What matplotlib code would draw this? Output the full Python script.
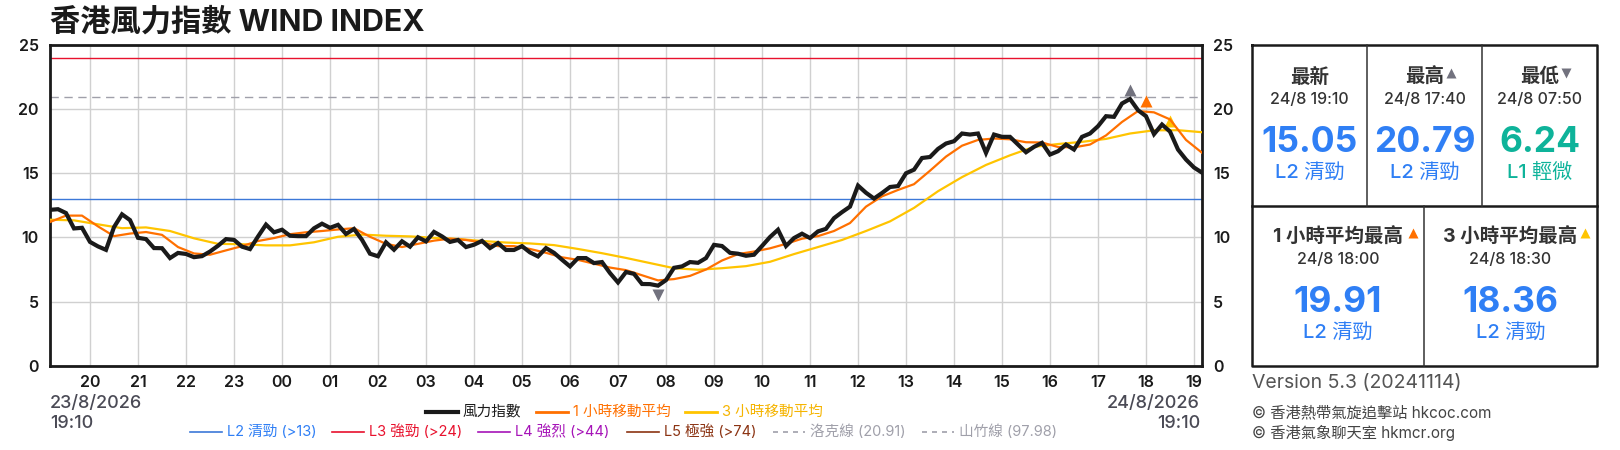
import numpy as np
import pandas as pd
import matplotlib
matplotlib.use('Agg')
import matplotlib.pyplot as plt
import matplotlib.dates as mdates

plt.rcParams['font.family'] = ['Inter', 'Noto Sans CJK TC', 'DejaVu Sans']

# ---- data ----
start = '2026-08-23 19:10'
wind_index = [12.15, 12.2, 11.9, 10.7, 10.75, 9.65, 9.3, 9.03, 10.8, 11.8,
              11.35, 9.97, 9.87, 9.17, 9.16, 8.39, 8.79, 8.71, 8.46, 8.54,
              8.9, 9.35, 9.87, 9.81, 9.28, 9.09, 10.07, 11.0, 10.4, 10.6,
              10.13, 10.1, 10.1, 10.71, 11.07, 10.75, 10.98, 10.27, 10.66, 9.81,
              8.73, 8.53, 9.62, 9.04, 9.7, 9.28, 10.01, 9.69, 10.43, 10.08,
              9.65, 9.8, 9.25, 9.43, 9.73, 9.17, 9.56, 9.02, 9.02, 9.32,
              8.83, 8.52, 9.17, 8.8, 8.26, 7.74, 8.39, 8.39, 8.0, 8.08,
              7.22, 6.49, 7.3, 7.16, 6.37, 6.36, 6.24, 6.67, 7.63, 7.74,
              8.08, 8.02, 8.39, 9.42, 9.33, 8.8, 8.73, 8.57, 8.65, 9.33,
              10.03, 10.6, 9.33, 9.95, 10.29, 9.95, 10.47, 10.67, 11.5, 11.97,
              12.4, 14.04, 13.48, 13.03, 13.46, 13.93, 14.0, 15.0, 15.28, 16.19,
              16.27, 16.9, 17.32, 17.5, 18.1, 18.02, 18.1, 16.59, 18.02, 17.84,
              17.84, 17.24, 16.64, 17.06, 17.37, 16.46, 16.72, 17.24, 16.85, 17.84,
              18.1, 18.67, 19.45, 19.4, 20.44, 20.79, 19.92, 19.45, 18.05, 18.8,
              18.25, 16.85, 16.07, 15.45, 15.05]
# 1 hour moving average, every 20 minutes
ma_1h = [11.2, 11.7, 11.7, 10.86, 10.1, 10.3, 10.42, 10.2, 9.25, 8.75,
         8.65, 8.99, 9.32, 9.72, 9.95, 10.25, 10.4, 10.5, 10.62, 10.72,
         10.05, 9.5, 9.25, 9.5, 9.75, 9.9, 9.8, 9.6, 9.32, 9.32,
         9.1, 8.8, 8.45, 8.25, 7.95, 7.65, 7.45, 7.05, 6.65, 6.75,
         7.0, 7.5, 8.2, 8.7, 8.9, 9.15, 9.5, 9.9, 10.1, 10.5,
         11.12, 12.4, 13.2, 13.7, 14.15, 15.2, 16.3, 17.15, 17.6, 17.71,
         17.65, 17.42, 17.4, 17.05, 17.02, 17.24, 17.95, 19.0, 19.85, 19.75,
         19.2, 17.6, 16.6]
# 3 hour moving average, every 30 minutes
ma_3h = [11.38, 11.33, 11.02, 10.72, 10.78, 10.5, 9.93, 9.5, 9.47, 9.38,
         9.38, 9.62, 10.05, 10.22, 10.13, 10.08, 9.97, 9.88, 9.72, 9.6,
         9.53, 9.4, 9.1, 8.77, 8.4, 8.0, 7.6, 7.48, 7.6, 7.76,
         8.1, 8.7, 9.25, 9.8, 10.5, 11.25, 12.3, 13.6, 14.7, 15.65,
         16.4, 17.06, 17.28, 17.45, 17.68, 18.1, 18.35, 18.36, 18.2]
peak_1h = ('2026-08-24 18:00', 19.91)
peak_3h = ('2026-08-24 18:30', 18.36)

levels = [13, 24, 44, 74]
level_names = ['L1 輕微', 'L2 清勁', 'L3 強勁', 'L4 強烈', 'L5 極強']
rokeline = 20.91

t_idx = pd.date_range(start, periods=len(wind_index), freq='10min')
t_ma1 = pd.date_range(start, periods=len(ma_1h), freq='20min')
t_ma3 = pd.date_range(start, periods=len(ma_3h), freq='30min')

BLUE = '#2f7ff5'
TEAL = '#0eb39a'
ORANGE = '#ff7000'
GOLD = '#ffc400'
MARK = '#72727e'

fig = plt.figure(figsize=(16.2, 4.5), dpi=100)
ax = fig.add_axes([50 / 1620, 1 - 365.7 / 450, 1152 / 1620, 320.7 / 450])

ax.axhline(levels[0], color='#3c78d8', lw=1.0, zorder=2)
ax.axhline(levels[1], color='#e8112d', lw=1.0, zorder=2)
ax.axhline(rokeline, color='#a0a0aa', lw=1.0, ls=(0, (6, 4)), zorder=2)

ax.plot(t_ma3, ma_3h, color=GOLD, lw=1.6, zorder=4)
ax.plot(t_ma1, ma_1h, color=ORANGE, lw=1.6, zorder=5)
ax.plot(t_idx, wind_index, color='#1a1a1a', lw=3.0, zorder=6, solid_joinstyle='miter')

wi = np.array(wind_index)
imax, imin = wi.argmax(), wi.argmin()
ax.plot(t_idx[imax], wi[imax] + 0.72, marker='^', ms=8, color=MARK, mec='none', zorder=3, clip_on=False)
ax.plot(t_idx[imin], wi[imin] - 0.72, marker='v', ms=8, color=MARK, mec='none', zorder=3)
ax.plot(pd.Timestamp(peak_1h[0]), peak_1h[1] + 0.72, marker='^', ms=8, color=ORANGE, mec='none', zorder=3)
ax.plot(pd.Timestamp(peak_3h[0]), peak_3h[1] + 0.72, marker='^', ms=8, color=GOLD, mec='none', zorder=3)

ax.set_xlim(t_idx[0], t_idx[-1])
ax.set_ylim(0, 25)
ax.set_yticks(range(0, 26, 5))
ax.xaxis.set_major_locator(mdates.HourLocator())
ax.xaxis.set_major_formatter(mdates.DateFormatter('%H'))
ax.grid(True, color='#d0d0d0', lw=1.0, zorder=0)
ax.set_axisbelow(True)
ax.tick_params(axis='y', length=0, pad=8, labelsize=11.5, labelcolor='#1a1a1a',
               labelleft=True, labelright=True)
ax.tick_params(axis='x', length=0, pad=7, labelsize=11.5, labelcolor='#1a1a1a')
for lab in ax.get_xticklabels() + ax.get_yticklabels():
    lab.set_fontweight('semibold')
for s in ax.spines.values():
    s.set_linewidth(2.0)
    s.set_color('#1a1a1a')

# ---- overlay in pixel coordinates for texts, legend and side panel ----
ov = fig.add_axes([0, 0, 1, 1])
ov.set_xlim(0, 1620)
ov.set_ylim(450, 0)
ov.axis('off')
ov.patch.set_alpha(0)

ov.text(50, 22, '香港風力指數 WIND INDEX', fontsize=21.8, weight='bold', va='center', ha='left', color='#1a1a1a')

t0, t1 = t_idx[0], t_idx[-1]
for x, ha, t in [(50, 'left', t0), (1200, 'right', t1)]:
    ov.text(x, 403, f'{t.day}/{t.month}/{t.year}', fontsize=13, color='#4a4a55', va='center', ha=ha, weight='medium')
    ov.text(x, 423, f'{t:%H:%M}', fontsize=13, color='#4a4a55', va='center', ha=ha, weight='medium')

# legend row 1
row1 = [(426, '#1a1a1a', 3.0, '風力指數', '#1a1a1a'),
        (536, ORANGE, 2.0, '1 小時移動平均', ORANGE),
        (685, GOLD, 2.0, '3 小時移動平均', '#f5b400')]
for x0, c, lw, label, tc in row1:
    ov.plot([x0, x0 + 32], [411.5, 411.5], color=c, lw=lw)
    ov.text(x0 + 37, 411.5, label, fontsize=10.5, color=tc, va='center')
row2 = [(190, '#3c78d8', '-', 'L2 清勁 (>13)', BLUE),
        (332, '#e8112d', '-', 'L3 強勁 (>24)', '#e8112d'),
        (478, '#a614b8', '-', 'L4 強烈 (>44)', '#a614b8'),
        (627, '#8b3312', '-', 'L5 極強 (>74)', '#8b3312'),
        (773, '#a0a0aa', (0, (3, 3)), '洛克線 (20.91)', '#a0a0aa'),
        (922, '#a0a0aa', (0, (3, 3)), '山竹線 (97.98)', '#a0a0aa')]
for x0, c, ls, label, tc in row2:
    ov.plot([x0, x0 + 32], [431.5, 431.5], color=c, lw=1.2, ls=ls)
    ov.text(x0 + 37, 431.5, label, fontsize=10.5, color=tc, va='center')


def level(v):
    return level_names[sum(v > l for l in levels)]


def fmt_time(t):
    return f'{t.day}/{t.month} {t:%H:%M}'


def level_color(v):
    return TEAL if v <= levels[0] else BLUE


# side panel box
bx0, bx1, by0, bym, by1 = 1252, 1597, 45, 205.7, 365.7
ov.plot([bx0, bx1, bx1, bx0, bx0], [by0, by0, by1, by1, by0], color='#1a1a1a', lw=1.8)
ov.plot([bx0, bx1], [bym, bym], color='#1a1a1a', lw=1.8)
ov.plot([1367, 1367], [by0, bym], color='#333333', lw=1.1)
ov.plot([1482, 1482], [by0, bym], color='#333333', lw=1.1)
ov.plot([1424, 1424], [bym, by1], color='#333333', lw=1.1)

p1 = pd.Timestamp(peak_1h[0])
p3 = pd.Timestamp(peak_3h[0])
cells = [
    (1309.5, 77, '最新', None, fmt_time(t_idx[-1]), wi[-1]),
    (1424.5, 77, '最高', ('^', MARK, 1451), fmt_time(t_idx[imax]), wi[imax]),
    (1539.5, 77, '最低', ('v', MARK, 1566), fmt_time(t_idx[imin]), wi[imin]),
    (1338, 237, '1 小時平均最高', ('^', ORANGE, 1413), fmt_time(p1), peak_1h[1]),
    (1510.5, 237, '3 小時平均最高', ('^', GOLD, 1585), fmt_time(p3), peak_3h[1]),
]
for cx, ty, title, tri, tstr, val in cells:
    ov.text(cx, ty, title, fontsize=14, weight='bold', color='#333333', ha='center', va='center')
    if tri:
        ov.plot(tri[2], ty - 4, marker=tri[0], ms=7, color=tri[1], mec='none')
    ov.text(cx, ty + 22, tstr, fontsize=11.5, color='#333333', ha='center', va='center', weight='medium')
    ov.text(cx, ty + 65, f'{val:.2f}', fontsize=25.5, weight='bold', color=level_color(val), ha='center', va='center')
    ov.text(cx, ty + 95, level(val), fontsize=14.5, color=level_color(val), ha='center', va='center', weight='medium')

ov.text(1252, 383, 'Version 5.3 (20241114)', fontsize=14, color='#555555', va='center', ha='left')
ov.text(1252, 413, '© 香港熱帶氣旋追擊站 hkcoc.com', fontsize=11, color='#444444', va='center', ha='left')
ov.text(1252, 433, '© 香港氣象聊天室 hkmcr.org', fontsize=11, color='#444444', va='center', ha='left')

fig.savefig('out.png', dpi=100)
